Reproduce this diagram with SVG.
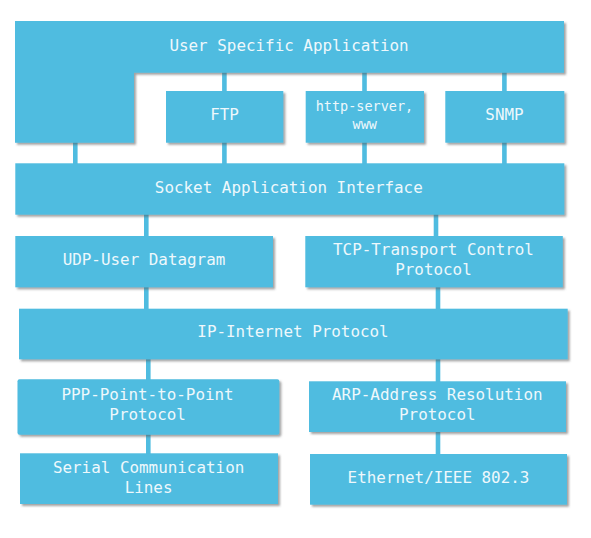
<svg xmlns="http://www.w3.org/2000/svg" width="591" height="538" viewBox="0 0 591 538">
  <defs>
    <filter id="sh" x="-5%" y="-10%" width="115%" height="130%">
      <feDropShadow dx="2" dy="2" stdDeviation="1.3" flood-color="#555" flood-opacity="0.55"/>
    </filter>
    <style>
      .box { fill: #4FBCE0; filter: url(#sh); }
      .conn { stroke: #4FBCE0; stroke-width: 4.6; fill: none; }
      .t { font-family: "DejaVu Sans Mono", "Liberation Mono", monospace; font-size: 15.9px; fill: #EEF8FC; text-anchor: middle; }
      .s { font-size: 13.5px; }
    </style>
  </defs>
  <rect width="591" height="538" fill="#FFFFFF"/>
  <g id="connectors">
    <line class="conn" x1="75.3" y1="140" x2="75.3" y2="166"/>
    <line class="conn" x1="224.4" y1="70" x2="224.4" y2="94"/>
    <line class="conn" x1="224.4" y1="140" x2="224.4" y2="166"/>
    <line class="conn" x1="364.5" y1="70" x2="364.5" y2="94"/>
    <line class="conn" x1="364.5" y1="140" x2="364.5" y2="166"/>
    <line class="conn" x1="504.4" y1="70" x2="504.4" y2="94"/>
    <line class="conn" x1="504.4" y1="140" x2="504.4" y2="166"/>
    <line class="conn" x1="146.3" y1="212" x2="146.3" y2="239"/>
    <line class="conn" x1="436" y1="212" x2="436" y2="239"/>
    <line class="conn" x1="146.3" y1="284" x2="146.3" y2="311"/>
    <line class="conn" x1="438" y1="284" x2="438" y2="311"/>
    <line class="conn" x1="148.3" y1="356" x2="148.3" y2="382"/>
    <line class="conn" x1="438" y1="356" x2="438" y2="384"/>
    <line class="conn" x1="148.3" y1="432" x2="148.3" y2="456"/>
    <line class="conn" x1="438" y1="429" x2="438" y2="457"/>
  </g>
  <g id="user-app">
    <path class="box" d="M15,21 H564 V72.7 H134 V142.7 H15 Z"/>
    <text class="t" x="289" y="51">User Specific Application</text>
  </g>
  <g id="ftp">
    <rect class="box" x="166" y="91" width="117.3" height="51.7"/>
    <text class="t" x="224.5" y="120">FTP</text>
  </g>
  <g id="http">
    <rect class="box" x="305.7" y="91" width="118.3" height="51.7"/>
    <text class="t s" x="364.5" y="111">http-server,</text>
    <text class="t s" x="364.7" y="129.3">www</text>
  </g>
  <g id="snmp">
    <rect class="box" x="445.3" y="91" width="119" height="51.7"/>
    <text class="t" x="504.5" y="120">SNMP</text>
  </g>
  <g id="socket">
    <rect class="box" x="15.3" y="163.3" width="549" height="51.4"/>
    <text class="t" x="288.8" y="192.5">Socket Application Interface</text>
  </g>
  <g id="udp">
    <rect class="box" x="15.3" y="236" width="257.7" height="51.3"/>
    <text class="t" x="144" y="265">UDP-User Datagram</text>
  </g>
  <g id="tcp">
    <rect class="box" x="305.3" y="236" width="257.5" height="51.3"/>
    <text class="t" x="433.5" y="255">TCP-Transport Control</text>
    <text class="t" x="433.5" y="275">Protocol</text>
  </g>
  <g id="ip">
    <rect class="box" x="19" y="308.7" width="548.7" height="50.6"/>
    <text class="t" x="293" y="336.7">IP-Internet Protocol</text>
  </g>
  <g id="ppp">
    <rect class="box" x="17.5" y="379.3" width="261.8" height="55.4" rx="2"/>
    <text class="t" x="147.6" y="400">PPP-Point-to-Point</text>
    <text class="t" x="147.6" y="420">Protocol</text>
  </g>
  <g id="arp">
    <rect class="box" x="309" y="381.3" width="257" height="50.7"/>
    <text class="t" x="437.3" y="400">ARP-Address Resolution</text>
    <text class="t" x="437.3" y="420">Protocol</text>
  </g>
  <g id="serial">
    <rect class="box" x="20" y="453.3" width="258" height="50.7"/>
    <text class="t" x="148.6" y="472.7">Serial Communication</text>
    <text class="t" x="148.6" y="492.7">Lines</text>
  </g>
  <g id="ethernet">
    <rect class="box" x="310" y="454" width="257" height="50.7"/>
    <text class="t" x="438.5" y="482.7">Ethernet/IEEE 802.3</text>
  </g>
</svg>
